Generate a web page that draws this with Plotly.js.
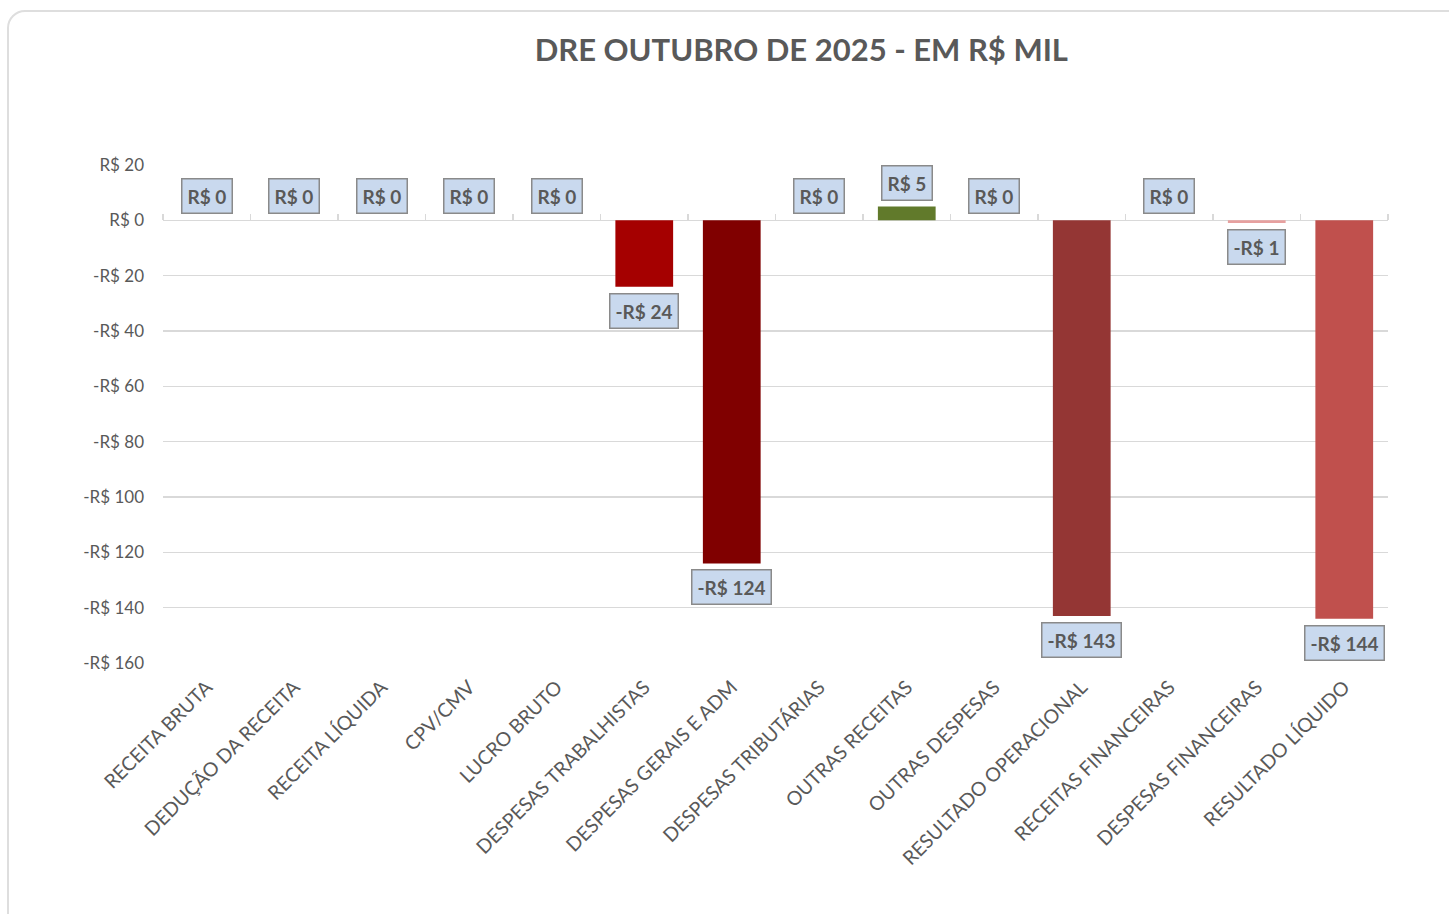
<!DOCTYPE html>
<html>
<head>
<meta charset="utf-8">
<script src="https://cdn.plot.ly/plotly-3.0.1.min.js"></script>
<style>
  html, body { margin: 0; padding: 0; background: #ffffff; overflow: hidden; }
  #frame { position: absolute; left: 7px; top: 10px; width: 1600px; height: 1100px;
           border: 2px solid #dedede; border-radius: 18px; box-sizing: border-box; }
  #chart { position: absolute; left: 0; top: 0; width: 1449px; height: 914px; }
</style>
</head>
<body>
<div id="frame"></div>
<div id="chart"></div>
<script>
const categories = [
  "RECEITA BRUTA", "DEDUÇÃO DA RECEITA", "RECEITA LÍQUIDA", "CPV/CMV", "LUCRO BRUTO",
  "DESPESAS TRABALHISTAS", "DESPESAS GERAIS E ADM", "DESPESAS TRIBUTÁRIAS", "OUTRAS RECEITAS",
  "OUTRAS DESPESAS", "RESULTADO OPERACIONAL", "RECEITAS FINANCEIRAS", "DESPESAS FINANCEIRAS",
  "RESULTADO LÍQUIDO"
];
const values = [0, 0, 0, 0, 0, -24, -124, 0, 5, 0, -143, 0, -1, -144];
const barColors = [
  "#4f81bd", "#4f81bd", "#4f81bd", "#4f81bd", "#4f81bd",
  "#a50000", "#800000", "#4f81bd", "#617a2b", "#4f81bd",
  "#943634", "#4f81bd", "#e6a09f", "#c0504d"
];
const yTickVals = [20, 0, -20, -40, -60, -80, -100, -120, -140, -160];
const yTickText = ["R$ 20", "R$ 0", "-R$ 20", "-R$ 40", "-R$ 60", "-R$ 80", "-R$ 100", "-R$ 120", "-R$ 140", "-R$ 160"];

function fmt(v) { return (v < 0 ? "-R$ " : "R$ ") + Math.abs(v); }

const fontFam = "Lato, 'Open Sans', sans-serif";
const catRange = [-0.5, categories.length - 0.5];

const barTrace = {
  type: "bar",
  x: categories,
  y: values,
  marker: { color: barColors, line: { width: 0 } },
  hoverinfo: "x+y",
  showlegend: false
};

const tickTrace = {
  type: "scatter",
  x: categories,
  y: values,
  xaxis: "x2",
  yaxis: "y",
  mode: "markers",
  marker: { opacity: 0, size: 1 },
  hoverinfo: "skip",
  showlegend: false
};

const annotations = categories.map((c, i) => ({
  x: c,
  y: values[i],
  xref: "x",
  yref: "y",
  text: "<b>" + fmt(values[i]) + "</b>",
  showarrow: false,
  yanchor: values[i] < 0 ? "top" : "bottom",
  yshift: values[i] < 0 ? -6 : 6,
  font: { family: fontFam, size: 19, color: "#595959" },
  bgcolor: "#c9d9ee",
  bordercolor: "#8a8a8a",
  borderwidth: 1.5,
  borderpad: 5
}));

const layout = {
  width: 1449,
  height: 914,
  paper_bgcolor: "rgba(0,0,0,0)",
  plot_bgcolor: "rgba(0,0,0,0)",
  margin: { l: 163, r: 61, t: 165, b: 251 },
  title: {
    text: "<b>DRE OUTUBRO DE 2025 - EM R$ MIL</b>",
    x: 0.553,
    xref: "container",
    xanchor: "center",
    y: 0.945,
    yref: "container",
    yanchor: "middle",
    font: { family: fontFam, size: 31, color: "#595959" }
  },
  bargap: 0.34,
  xaxis: {
    type: "category",
    range: catRange,
    autorange: false,
    tickangle: -45,
    tickfont: { family: fontFam, size: 19.5, color: "#595959" },
    showgrid: false,
    showline: false,
    ticks: "",
    ticklabelstandoff: 8,
    fixedrange: true
  },
  xaxis2: {
    type: "category",
    overlaying: "x",
    range: catRange,
    autorange: false,
    anchor: "free",
    position: 160 / 180,
    side: "top",
    showticklabels: false,
    showgrid: false,
    showline: false,
    ticks: "outside",
    tickson: "boundaries",
    ticklen: 6,
    tickcolor: "#d9d9d9",
    tickwidth: 1.5
  },
  yaxis: {
    range: [-160, 20],
    tickvals: yTickVals,
    ticktext: yTickText,
    tickfont: { family: fontFam, size: 17, color: "#595959" },
    gridcolor: "#d9d9d9",
    gridwidth: 1.5,
    zeroline: true,
    zerolinecolor: "#d9d9d9",
    zerolinewidth: 1.5,
    showline: false,
    ticks: "",
    ticklabelstandoff: 18,
    fixedrange: true
  },
  annotations: annotations,
  font: { family: fontFam }
};

Plotly.newPlot("chart", [barTrace, tickTrace], layout, { displayModeBar: false, staticPlot: true });
</script>
</body>
</html>
